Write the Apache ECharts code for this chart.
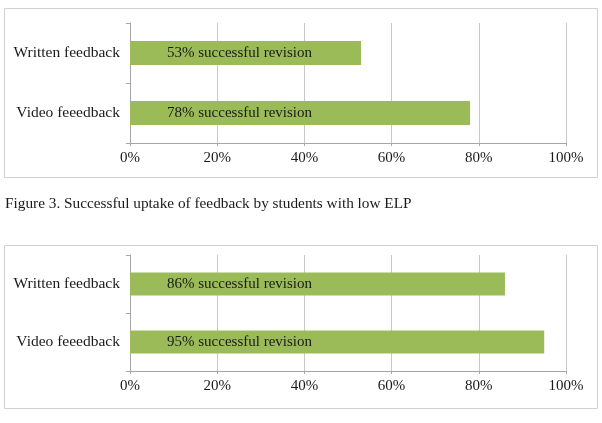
<!DOCTYPE html>
<html>
<head>
<meta charset="utf-8">
<script src="https://cdn.jsdelivr.net/npm/echarts@6/dist/echarts.min.js"></script>
<style>
  html, body { margin: 0; padding: 0; background: #fff; }
  #main { width: 602px; height: 423px; }
</style>
</head>
<body>
<div id="main"></div>
<script>
var categories = ['Video feeedback', 'Written feedback'];
var topValues = [78, 53];      // first chart
var bottomValues = [95, 86];   // second chart (low ELP)
var xTicks = [0, 20, 40, 60, 80, 100];
var caption = 'Figure 3. Successful uptake of feedback by students with low ELP';

var chart = echarts.init(document.getElementById('main'));

var font = 'Liberation Serif';
var green = '#9bbb59';

function xAxis(gridIndex) {
  return {
    type: 'value',
    gridIndex: gridIndex,
    min: xTicks[0],
    max: xTicks[xTicks.length - 1],
    interval: 20,
    axisLine: { show: true, lineStyle: { color: '#a6a6a6' } },
    axisTick: { show: true, length: 3, lineStyle: { color: '#a6a6a6' } },
    splitLine: { show: true, lineStyle: { color: '#c8c8c8' } },
    axisLabel: {
      formatter: '{value}%',
      fontFamily: font,
      fontSize: 15,
      color: '#1a1a1a',
      margin: 8
    }
  };
}

function yAxis(gridIndex) {
  return {
    type: 'category',
    gridIndex: gridIndex,
    data: categories,
    axisLine: { show: true, lineStyle: { color: '#a6a6a6' } },
    axisTick: { show: true, length: 4, inside: false, lineStyle: { color: '#a6a6a6' } },
    axisLabel: {
      fontFamily: font,
      fontSize: 15.5,
      color: '#1a1a1a',
      margin: 10
    }
  };
}

function barSeries(idx, values) {
  return {
    type: 'bar',
    xAxisIndex: idx,
    yAxisIndex: idx,
    data: values,
    barCategoryGap: '60%',
    itemStyle: { color: green },
    silent: true,
    label: {
      show: true,
      position: 'insideLeft',
      distance: 37,
      formatter: '{c}% successful revision',
      fontFamily: font,
      fontSize: 15,
      color: '#1a1a1a'
    }
  };
}

var option = {
  backgroundColor: '#ffffff',
  animation: false,
  graphic: [
    { type: 'rect', shape: { x: 4.5, y: 8.5, width: 593, height: 169 },
      style: { fill: 'none', stroke: '#d0d0d0', lineWidth: 1 } },
    { type: 'rect', shape: { x: 4.5, y: 245.5, width: 593, height: 163 },
      style: { fill: 'none', stroke: '#d0d0d0', lineWidth: 1 } },
    { type: 'text', left: 5, top: 196,
      style: { text: caption, font: '15.3px "Liberation Serif"', fill: '#1a1a1a' } }
  ],
  grid: [
    { left: 130, top: 23, width: 436, height: 120 },
    { left: 130, top: 255, width: 436, height: 116 }
  ],
  xAxis: [xAxis(0), xAxis(1)],
  yAxis: [yAxis(0), yAxis(1)],
  series: [barSeries(0, topValues), barSeries(1, bottomValues)]
};

chart.setOption(option);
</script>
</body>
</html>
